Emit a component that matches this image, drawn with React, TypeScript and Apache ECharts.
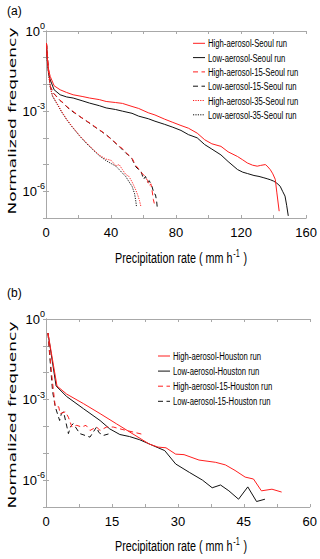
import React, { useEffect, useRef } from "react";
import * as echarts from "echarts";

type Pt = [number, number];

// Panel (a): Seoul runs  [precipitation rate (mm/h), normalized frequency]
const SEOUL_HIGH: Pt[] = [[0.3,0.35],[0.8,0.1],[1.6,0.035],[2.6,0.02],[5,8.9e-3],[8.7,6.3e-3],[12.7,5e-3],[16.7,4.1e-3],[22.7,3.5e-3],[26.8,3.1e-3],[32.8,2.7e-3],[37,2.3e-3],[42.8,2.1e-3],[47,1.95e-3],[52.9,1.5e-3],[57,1.26e-3],[62.9,8.7e-4],[67,7.2e-4],[73,5e-4],[78,3.8e-4],[83,2.9e-4],[87.6,2.3e-4],[93,1.5e-4],[97.6,8.5e-5],[102,6e-5],[107.6,4.8e-5],[112,3e-5],[117.8,2e-5],[121,1.5e-5],[123.8,1.15e-5],[127,9.5e-6],[129.9,8.7e-6],[132,9.3e-6],[134.9,1.0e-5],[136,8.8e-6],[137.9,6.5e-6],[139.5,4.5e-6],[141,2.8e-6],[142,8.7e-7],[143.4,1.8e-7]];
const SEOUL_LOW: Pt[] = [[0.3,0.35],[0.8,0.08],[1.6,0.025],[2.6,0.0148],[5,6.3e-3],[8.7,4.1e-3],[12.7,3.4e-3],[16.7,3.1e-3],[22.7,2.4e-3],[26.8,2e-3],[32.8,1.6e-3],[37,1.32e-3],[42.8,1.15e-3],[47,1e-3],[52.9,8.3e-4],[57,6.5e-4],[62.9,5.2e-4],[67,4.2e-4],[73,3.2e-4],[78,2.5e-4],[83,1.9e-4],[87.6,1.32e-4],[93,1e-4],[97.6,5.6e-5],[102,3.8e-5],[107.6,2.3e-5],[112,1.3e-5],[117.8,6.5e-6],[121,5.2e-6],[124,4.6e-6],[127.9,3.9e-6],[131,3.6e-6],[134,3.2e-6],[136,2.95e-6],[138,2.7e-6],[140,2.4e-6],[142,2.0e-6],[144,1.55e-6],[145.5,1e-6],[147,6.6e-7],[148,3e-7],[149,1.2e-7]];
const SEOUL_HIGH_15: Pt[] = [[0.3,0.35],[0.9,0.1],[1.8,0.025],[2.8,8e-3],[4.6,4.7e-3],[8.6,2.6e-3],[10.7,2e-3],[13,1.45e-3],[16,1.05e-3],[20.8,6.3e-4],[25,4.3e-4],[28.8,3e-4],[30.9,2.4e-4],[34,1.8e-4],[37,1.3e-4],[40,9e-5],[42.5,6.8e-5],[45,4.8e-5],[47,4e-5],[49,2.9e-5],[51,2.2e-5],[53,1.7e-5],[55,9.5e-6],[57,7e-6],[58.5,5e-6],[60,4.2e-6],[61.2,3.3e-6],[62.5,2.5e-6],[63.5,1.6e-6],[64.5,1.9e-6],[65.2,1.1e-6],[66,5e-7],[66.6,3.5e-7]];
const SEOUL_LOW_15: Pt[] = [[0.3,0.35],[0.9,0.1],[1.8,0.025],[2.8,8e-3],[4.6,4.7e-3],[8.6,2.5e-3],[10.7,2e-3],[13,1.4e-3],[16,1e-3],[20.8,6.3e-4],[25,4.2e-4],[28.8,2.9e-4],[30.9,2.35e-4],[34,1.75e-4],[37,1.3e-4],[40,9.3e-5],[42.5,6.5e-5],[45,4.8e-5],[47,3.6e-5],[49,2.7e-5],[51,2.2e-5],[53,1.6e-5],[55,8.5e-6],[57,6.5e-6],[58.5,5.5e-6],[60,2.8e-6],[61.2,3.6e-6],[62.5,2.2e-6],[63.5,2.5e-6],[65.2,1.5e-6],[66.5,8e-7],[67.3,7.6e-7],[68,4.5e-7],[68.4,2.6e-7]];
const SEOUL_HIGH_35: Pt[] = [[0.3,0.35],[0.9,0.06],[1.6,0.026],[2.6,8.3e-3],[4,3.8e-3],[6.7,2e-3],[9.5,1e-3],[12.7,5e-4],[16,2.7e-4],[20.8,1.2e-4],[24.7,6.8e-5],[28.8,3.8e-5],[33,2.2e-5],[37,1.6e-5],[40,1.45e-5],[43,9e-6],[45,1e-5],[47,6.5e-6],[49,4.3e-6],[51,3.6e-6],[53,2.2e-6],[55,1.2e-6],[56.5,7e-7],[57.5,4.5e-7],[58.3,2.8e-7]];
const SEOUL_LOW_35: Pt[] = [[0.3,0.35],[0.9,0.06],[1.6,0.025],[2.6,8e-3],[4,3.6e-3],[6.7,1.9e-3],[9.5,9.5e-4],[12.7,4.8e-4],[16,2.6e-4],[20.8,1.15e-4],[24.7,6.3e-5],[28.8,3.6e-5],[33,2.1e-5],[37,1.4e-5],[40,1.1e-5],[43,8.7e-6],[45,6.5e-6],[47,4.8e-6],[49,3.6e-6],[51,2.3e-6],[53,1.5e-6],[54.5,8e-7],[55.3,4e-7],[55.6,2.8e-7]];

// Panel (b): Houston runs
const HOUSTON_HIGH: Pt[] = [[0.45,0.3],[2.5,3.2e-3],[4.7,1.6e-3],[8.5,7.1e-4],[12.3,3e-4],[16,1.26e-4],[19.8,5.2e-5],[23.5,2.2e-5],[25.5,1.7e-5],[27.3,1.6e-5],[29.5,9.3e-6],[31.4,8.9e-6],[34.8,5.6e-6],[38.6,4.6e-6],[40.8,3.7e-6],[43,2.3e-6],[45.3,1.3e-6],[47.2,1.1e-6],[49,4e-7],[51.4,4.6e-7],[53.6,3.6e-7]];
const HOUSTON_LOW: Pt[] = [[0.45,0.3],[2.3,3.2e-3],[4.7,1.3e-3],[8.5,4.6e-4],[12.3,1.66e-4],[14.5,8.1e-5],[16.8,5e-5],[19,4.2e-5],[21.3,3.2e-5],[24.3,1.95e-5],[27,1.26e-5],[29.5,4e-6],[32.6,1.95e-6],[35.6,1e-6],[37.8,5.2e-7],[39.7,6.6e-7],[41.6,4e-7],[43.8,1.95e-7],[45.9,5.6e-7],[47.9,1.6e-7],[49.8,1.95e-7]];
const HOUSTON_HIGH_15: Pt[] = [[0.45,0.3],[1.0,0.03],[1.35,7e-3],[2.1,5.4e-4],[2.9,5.4e-4],[3.2,3e-4],[4.4,3.5e-4],[5.1,2.2e-4],[5.9,9.5e-5],[7,1.1e-4],[8.1,9.5e-5],[9.1,1.1e-4],[10,7.1e-5],[11.5,9.5e-5],[12.3,7.1e-5],[13.8,9.5e-5],[15.3,9.5e-5],[17.5,7.6e-5],[19.8,6.2e-5],[21.7,5.2e-5],[22,6.2e-5]];
const HOUSTON_LOW_15: Pt[] = [[0.45,0.3],[1.0,0.02],[1.5,2e-3],[2.1,5.4e-4],[3.1,1.66e-4],[3.5,3e-4],[4,3.5e-4],[5.1,5.4e-5],[5.6,1e-4],[6.2,1.26e-4],[7.7,5.4e-5],[10,4e-5],[11.5,9.5e-5],[12,6e-5],[13,4.6e-5],[14.5,5.4e-5]];

const NAMES_A = ["High-aerosol-Seoul run","Low-aerosol-Seoul run","High-aerosol-15-Seoul run","Low-aerosol-15-Seoul run","High-aerosol-35-Seoul run","Low-aerosol-35-Seoul run"];
const NAMES_B = ["High-aerosol-Houston run","Low-aerosol-Houston run","High-aerosol-15-Houston run","Low-aerosol-15-Houston run"];

const X_RANGE_A = [0, 160, 40];
const X_RANGE_B = [0, 60, 15];
const Y_RANGE = [1e-7, 1];

const RED = "#ff1f1f";
const BLACK = "#111111";
const FRAME = "#a8a8a8";
const SANS = "'Liberation Sans', Arial, sans-serif";
const DASH = [5, 3.5];
const DOT = [1.2, 1.2];

export default function App() {
  const ref = useRef<HTMLDivElement>(null);
  useEffect(() => {
    const chart = echarts.init(ref.current!, undefined, { renderer: "svg" });

    const tick = { inside: true, length: 3, lineStyle: { color: FRAME, width: 1 } };
    const line = { show: true, lineStyle: { color: FRAME, width: 1 } };

    const xAxisPair = (grid: number, r: number[]) => [
      {
        type: "value", gridIndex: grid, position: "bottom", min: r[0], max: r[1], interval: r[2],
        axisLine: line, axisTick: tick, splitLine: { show: false },
        minorTick: { show: true, splitNumber: 2, length: 3, lineStyle: { color: FRAME } },
        axisLabel: { color: "#000", fontSize: 13, fontFamily: SANS, margin: 8 },
      },
      {
        type: "value", gridIndex: grid, position: "top", min: r[0], max: r[1], interval: r[2],
        axisLine: line, axisTick: tick, splitLine: { show: false },
        minorTick: { show: true, splitNumber: 2, length: 3, lineStyle: { color: FRAME } },
        axisLabel: { show: false },
      },
    ];
    const yAxisPair = (grid: number) => [
      {
        type: "log", logBase: 10, gridIndex: grid, position: "left", min: Y_RANGE[0], max: Y_RANGE[1],
        axisLine: line, axisTick: tick, splitLine: { show: false }, minorTick: { show: false },
        axisLabel: {
          margin: 1,
          formatter: (v: number) => {
            const e = Math.round(Math.log10(v));
            return e % 3 === 0 ? `{b|10}{s|${e}}` : "";
          },
          rich: {
            b: { fontSize: 13, fontFamily: SANS, color: "#000", lineHeight: 13 },
            s: { fontSize: 9, fontFamily: SANS, color: "#000", lineHeight: 9, padding: [0, 0, 10, 0] },
          },
        },
      },
      {
        type: "log", logBase: 10, gridIndex: grid, position: "right", min: Y_RANGE[0], max: Y_RANGE[1],
        axisLine: line, axisTick: tick, splitLine: { show: false }, axisLabel: { show: false },
      },
    ];

    const mk = (name: string, data: Pt[], color: string, type: any, ax: number) => ({
      name, type: "line", data, xAxisIndex: ax, yAxisIndex: ax, symbol: "none", showSymbol: false,
      lineStyle: { color, width: 1, type }, itemStyle: { color }, z: color === RED ? 3 : 2,
    });

    const STYLES_A = [[RED, null], [BLACK, null], [RED, DASH], [BLACK, DASH], [RED, DOT], [BLACK, DOT]];
    const STYLES_B = [[RED, null], [BLACK, null], [RED, DASH], [BLACK, DASH]];

    const legendGraphic = (names: string[], styles: any[], x0: number, y0: number, step: number) =>
      names.flatMap((n, i) => {
        const y = y0 + i * step;
        const [c, dash] = styles[i];
        return [
          {
            type: "line", shape: { x1: x0, y1: y, x2: x0 + 12, y2: y },
            style: { stroke: c, lineWidth: 1, lineDash: dash || undefined },
          },
          {
            type: "text", x: x0 + 15, y, scaleX: 0.7,
            style: { text: n, font: `11px ${SANS}`, fill: "#000", align: "left", verticalAlign: "middle" },
          },
        ];
      });

    const option: any = {
      animation: false,
      backgroundColor: "#fff",
      grid: [
        { left: 46, top: 31, width: 265, height: 187 },
        { left: 46, top: 319, width: 265, height: 188 },
      ],
      xAxis: [...xAxisPair(0, X_RANGE_A), ...xAxisPair(1, X_RANGE_B)],
      yAxis: [...yAxisPair(0), ...yAxisPair(1)],
      series: [
        mk(NAMES_A[0], SEOUL_HIGH, RED, "solid", 0),
        mk(NAMES_A[1], SEOUL_LOW, BLACK, "solid", 0),
        mk(NAMES_A[2], SEOUL_HIGH_15, RED, DASH, 0),
        mk(NAMES_A[3], SEOUL_LOW_15, BLACK, DASH, 0),
        mk(NAMES_A[4], SEOUL_HIGH_35, RED, DOT, 0),
        mk(NAMES_A[5], SEOUL_LOW_35, BLACK, DOT, 0),
        mk(NAMES_B[0], HOUSTON_HIGH, RED, "solid", 2),
        mk(NAMES_B[1], HOUSTON_LOW, BLACK, "solid", 2),
        mk(NAMES_B[2], HOUSTON_HIGH_15, RED, DASH, 2),
        mk(NAMES_B[3], HOUSTON_LOW_15, BLACK, DASH, 2),
      ],
      graphic: [
        { type: "text", x: 7, y: 5, style: { text: "(a)", font: `12px ${SANS}`, fill: "#000" } },
        { type: "text", x: 7, y: 287, style: { text: "(b)", font: `12px ${SANS}`, fill: "#000" } },
        ...[121, 415].map((cy) => ({
          type: "text", x: 12, y: cy, rotation: Math.PI / 2, scaleX: 1.7,
          style: { text: "Normalized frequency", font: `10px 'DejaVu Sans'`, fill: "#000", align: "center", verticalAlign: "middle" },
        })),
        ...[258, 546].map((cy) => ({
          type: "text", x: 181, y: cy, scaleX: 0.72,
          style: {
            text: "{n|Precipitation rate ( mm h}{s|-1}{n| )}",
            align: "center", verticalAlign: "middle",
            rich: {
              n: { fontSize: 15, fontFamily: SANS, fill: "#000", lineHeight: 15 },
              s: { fontSize: 10, fontFamily: SANS, fill: "#000", lineHeight: 10, padding: [0, 1, 9, 1] },
            },
          },
        })),
        ...legendGraphic(NAMES_A, STYLES_A, 193, 43.3, 14.3),
        ...legendGraphic(NAMES_B, STYLES_B, 158, 356, 15.1),
      ],
    };
    chart.setOption(option);
    return () => chart.dispose();
  }, []);
  return <div ref={ref} style={{ position: "fixed", left: 0, top: 0, width: 320, height: 559, background: "#fff" }} />;
}
